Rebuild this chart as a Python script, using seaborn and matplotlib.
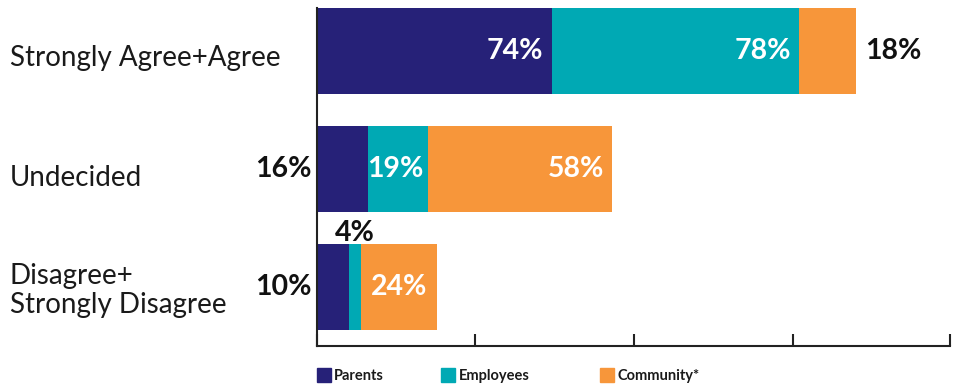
import matplotlib
matplotlib.use("Agg")
import matplotlib.pyplot as plt
import seaborn as sns
import pandas as pd
import numpy as np

categories = ["Strongly Agree+Agree", "Undecided", "Disagree+\nStrongly Disagree"]
groups = ["Parents", "Employees", "Community*"]
parents = [74, 16, 10]
employees = [78, 19, 4]
community = [18, 58, 24]
colors = ["#262178", "#00A9B4", "#F7963A"]

sns.set_theme(style="white")
plt.rcParams["font.family"] = ["Lato", "DejaVu Sans"]

fig = plt.figure(figsize=(9.66, 3.84), dpi=100)
ax = fig.add_axes([0.328, 0.099, 0.655, 0.880])

# stacked horizontal bars: draw cumulative totals back to front
series = [parents, employees, community]
cum = np.cumsum(np.array(series), axis=0)
for i in range(len(groups) - 1, -1, -1):
    tmp = pd.DataFrame({"category": categories, "value": cum[i]})
    sns.barplot(data=tmp, y="category", x="value", color=colors[i],
                orient="h", width=0.73, ax=ax, saturation=1, linewidth=0)

ax.set_xlim(0, 199.5)
ax.set_ylim(2.5, -0.365)
ax.set_xticks([0, 50, 100, 150, 199.5])
ax.set_xticklabels([])
ax.set_yticklabels([])
ax.set_xlabel("")
ax.set_ylabel("")
ax.tick_params(axis="x", direction="in", length=9, width=1.5, color="#222222", bottom=True)
ax.tick_params(axis="y", length=0)
for s in ["top", "right"]:
    ax.spines[s].set_visible(False)
for s in ["left", "bottom"]:
    ax.spines[s].set_color("#222222")
    ax.spines[s].set_linewidth(1.5)

# category labels at the left edge of the figure
label_shift = [0.06, 0.08, 0.03]
for yi, lab in enumerate(categories):
    ax.text(-0.485, yi + label_shift[yi], lab, transform=ax.get_yaxis_transform(),
            ha="left", va="center", fontsize=20, color="#1a1a1a",
            linespacing=1.18)

lab_kw = dict(fontsize=20.5, fontweight="bold", va="center")
starts = np.vstack([np.zeros(3), cum[:-1]])

def seg_label(row, k, where):
    v = series[k][row]
    x0, x1 = starts[k][row], cum[k][row]
    txt = f"{v}%"
    if where == "in_right":
        ax.text(x1 - 2.5, row, txt, ha="right", color="white", **lab_kw)
    elif where == "in_left":
        ax.text(x0, row, txt, ha="left", color="white", **lab_kw)
    elif where == "in_center":
        ax.text((x0 + x1) / 2, row, txt, ha="center", color="white", **lab_kw)
    elif where == "out_right":
        ax.text(x1 + 2.8, row, txt, ha="left", color="#111111", **lab_kw)
    elif where == "out_left":
        ax.text(-1.8, row, txt, ha="right", color="#111111", **lab_kw)
    elif where == "above":
        ax.text((x0 + x1) / 2, row - 0.46, txt, ha="center", color="#111111", **lab_kw)

seg_label(0, 0, "in_right")
seg_label(0, 1, "in_right")
seg_label(0, 2, "out_right")
seg_label(1, 0, "out_left")
seg_label(1, 1, "in_left")
seg_label(1, 2, "in_right")
seg_label(2, 0, "out_left")
seg_label(2, 1, "above")
seg_label(2, 2, "in_center")

# legend row beneath the axis
leg_x = [0.328, 0.457, 0.621]
for g, x, c in zip(groups, leg_x, colors):
    fig.patches.append(plt.Rectangle((x, 0.005), 0.0145, 0.036, color=c,
                                     transform=fig.transFigure))
    fig.text(x + 0.018, 0.022, g, fontsize=10.5, fontweight="bold",
             color="#1a1a1a", va="center", ha="left")

fig.savefig("out.png", dpi=100)
